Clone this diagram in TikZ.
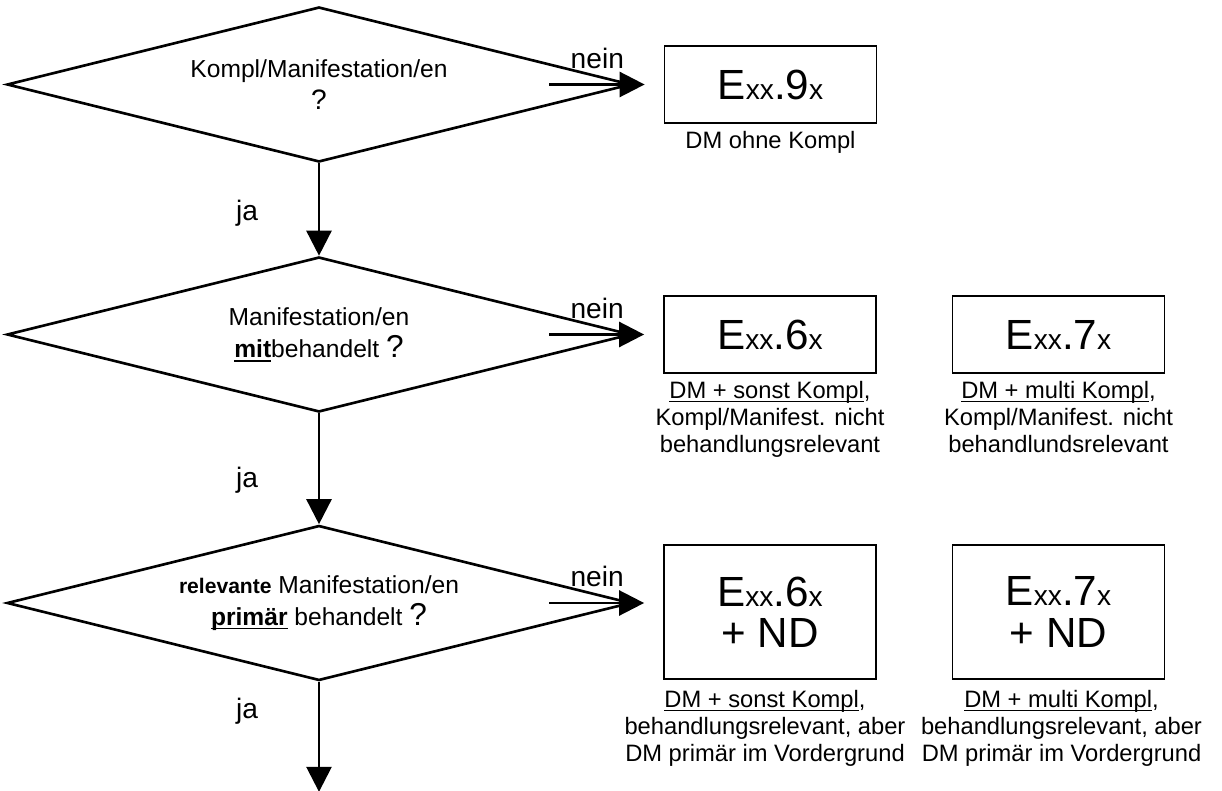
\documentclass[tikz,border=0pt]{standalone}
\usepackage{fontspec}
\setmainfont{Liberation Sans}
\usepackage{tikz}
\usetikzlibrary{arrows.meta,shapes.geometric,positioning}
\tikzstyle{decision} = [diamond, shape aspect=4, minimum width=12.48cm, minimum height=3.1cm, inner sep=0pt, text centered, align=center, draw=black, line width=1.5pt, font=\fontsize{14}{18.5}\selectfont]
\tikzstyle{codebox} = [rectangle, minimum width=4.24cm, minimum height=1.54cm, text centered, align=center, draw=black, line width=1pt, font=\fontsize{24}{23.5}\selectfont]
\tikzstyle{remark} = [align=center, inner sep=0pt, font=\fontsize{13.5}{15.5}\selectfont]
\tikzstyle{answer} = [font=\fontsize{16}{19}\selectfont]
\newcommand{\ecode}[1]{E{\fontsize{16}{19}\selectfont xx}.#1{\fontsize{16}{19}\selectfont x}}
\newcommand{\ulbar}[1]{\setbox0\hbox{#1}\rlap{\rule[-2.2pt]{\wd0}{0.8pt}}\box0\relax}

\begin{document}
    \begin{tikzpicture}[node distance=5cm]
        \tikzset{flow/.style={line width=1.5pt, -{Triangle[length=0.5cm, width=0.5cm]}}}
        \useasboundingbox (-6.38,1.69) rectangle (18.06,-14.13);

        \node (dkompl) [decision] {Kompl/Manifestation/en\\{\fontsize{16}{18}\selectfont ?}};
        \node (dmanif) [decision, below of=dkompl] {Manifestation/en\\\ulbar{\textbf{mit}}behandelt {\fontsize{18}{18}\selectfont ?}};
        \node (drelev) [decision, below of=dmanif, yshift=-0.37cm] {{\fontsize{12}{18}\selectfont\textbf{relevante}} Manifestation/en\\\ulbar{\textbf{primär}} behandelt {\fontsize{18}{18}\selectfont ?}};

        \node (e9) [codebox, right of=dkompl, xshift=4.03cm] {\ecode{9}};
        \node (e6) [codebox, right of=dmanif, xshift=4.02cm] {\ecode{6}};
        \node (e7) [codebox, right of=e6, xshift=0.77cm] {\ecode{7}};
        \node (e6nd) [codebox, minimum height=2.68cm, right of=drelev, xshift=4.02cm, yshift=-0.18cm] {\ecode{6}\\+ ND};
        \node (e7nd) [codebox, minimum height=2.68cm, right of=e6nd, xshift=0.77cm] {\ecode{7}\\+ ND};

        \node (e9note) [remark, below=0.14cm of e9] {DM ohne Kompl};
        \node (e6note) [remark, below=0.14cm of e6] {\ulbar{DM + sonst Kompl},\\Kompl/Manifest. nicht\\behandlungsrelevant};
        \node (e7note) [remark, below=0.14cm of e7] {\ulbar{DM + multi Kompl},\\Kompl/Manifest. nicht\\behandlundsrelevant};
        \node (e6ndnote) [remark, below=0.2cm of e6nd, xshift=-0.1cm] {\ulbar{DM + sonst Kompl},\\behandlungsrelevant, aber\\DM primär im Vordergrund};
        \node (e7ndnote) [remark, below=0.2cm of e7nd, xshift=0.06cm] {\ulbar{DM + multi Kompl},\\behandlungsrelevant, aber\\DM primär im Vordergrund};

        \draw [flow] (dkompl.south) -- (dmanif.north) node [answer, pos=0.54, xshift=-1.44cm] {ja};
        \draw [flow] (dmanif.south) -- (drelev.north) node [answer, pos=0.6, xshift=-1.44cm] {ja};
        \coordinate (weiter) at ([yshift=-2.2cm]drelev.south);
        \draw [flow] (drelev.south) -- (weiter) node [answer, pos=0.27, xshift=-1.44cm] {ja};

        \draw [flow, shorten >=0.38cm] ([xshift=-1.66cm]dkompl.east) -- (e9.west) node [answer, pos=0.42, yshift=0.53cm] {nein};
        \draw [flow, shorten >=0.38cm] ([xshift=-1.66cm]dmanif.east) -- (e6.west) node [answer, pos=0.42, yshift=0.53cm] {nein};
        \draw [flow, shorten >=0.38cm] ([xshift=-1.66cm]drelev.east) -- (drelev.east -| e6nd.west) node [answer, pos=0.42, yshift=0.53cm] {nein};
    \end{tikzpicture}
\end{document}
